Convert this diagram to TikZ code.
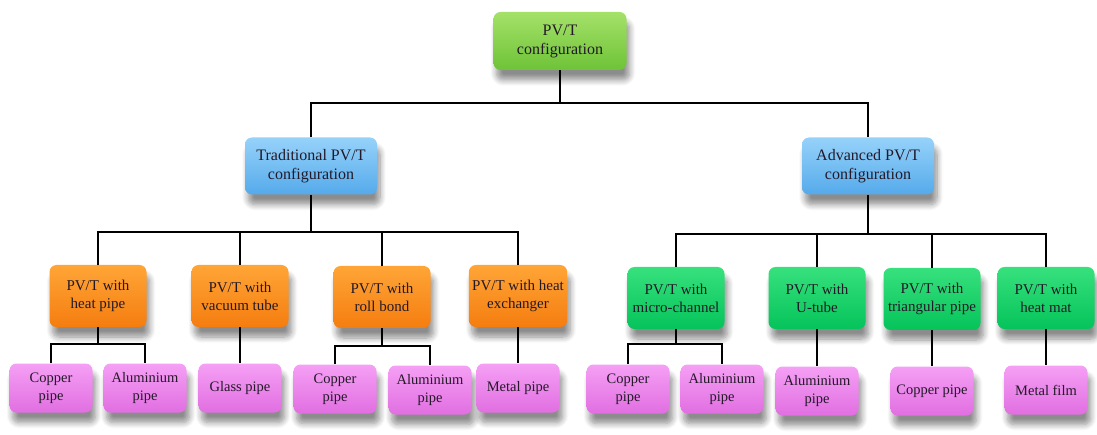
\documentclass[tikz,border=0pt]{standalone}
\usepackage{fontspec}
\setmainfont{Liberation Serif}
\usetikzlibrary{shadows.blur}
\definecolor{gtop}{RGB}{165,225,105}\definecolor{gbot}{RGB}{110,195,55}
\definecolor{btop}{RGB}{150,210,250}\definecolor{bbot}{RGB}{85,170,235}
\definecolor{otop}{RGB}{255,165,55}\definecolor{obot}{RGB}{245,125,15}
\definecolor{ntop}{RGB}{55,225,125}\definecolor{nbot}{RGB}{5,195,90}
\definecolor{ptop}{RGB}{245,160,245}\definecolor{pbot}{RGB}{225,110,225}
\definecolor{txt}{RGB}{35,25,40}
\tikzset{
  box/.style={rounded corners=7pt, align=center, text=txt, font=\fontsize{15}{18}\selectfont,
    blur shadow={shadow xshift=3pt, shadow yshift=-10pt, shadow blur steps=8, shadow blur radius=6pt, shadow opacity=45}},
  rootbox/.style={box, top color=gtop, bottom color=gbot, minimum width=133pt, minimum height=58pt, font=\fontsize{16}{19}\selectfont},
  midbox/.style={box, top color=btop, bottom color=bbot, minimum width=132pt, minimum height=57pt, font=\fontsize{16}{19}\selectfont},
  orbox/.style={box, top color=otop, bottom color=obot, minimum width=97pt, minimum height=62pt},
  grbox/.style={box, top color=ntop, bottom color=nbot, minimum width=97pt, minimum height=62pt},
  pkbox/.style={box, top color=ptop, bottom color=pbot, minimum width=83pt, minimum height=49pt, font=\fontsize{14.5}{18}\selectfont},
  link/.style={line width=1.8pt, black}
}
\begin{document}
\begin{tikzpicture}[x=1pt,y=-1pt]
\useasboundingbox (0,0) rectangle (1097,435);
% nodes
\node[rootbox] (top) at (560,41) {PV/T\\configuration};
\node[midbox] (trad) at (311,166) {Traditional PV/T\\configuration};
\node[midbox] (adv) at (868,166) {Advanced PV/T\\configuration};
\node[orbox] (hp) at (98,296) {PV/T with\\heat pipe};
\node[orbox] (vt) at (240,296) {PV/T with\\vacuum tube};
\node[orbox] (rb) at (382,297) {PV/T with\\roll bond};
\node[orbox] (ex) at (518,296) {PV/T with heat\\exchanger};
\node[grbox] (mc) at (676,298) {PV/T with\\micro-channel};
\node[grbox] (ut) at (817,298) {PV/T with\\U-tube};
\node[grbox] (tp) at (932,299) {PV/T with\\triangular pipe};
\node[grbox] (hm) at (1046,298) {PV/T with\\heat mat};
\node[pkbox] (cp1) at (51,388) {Copper\\pipe};
\node[pkbox] (al1) at (145,388) {Aluminium\\pipe};
\node[pkbox] (gp) at (240,388) {Glass pipe};
\node[pkbox] (cp2) at (335,389) {Copper\\pipe};
\node[pkbox] (al2) at (430,390) {Aluminium\\pipe};
\node[pkbox] (mp) at (518,388) {Metal pipe};
\node[pkbox] (cp3) at (628,389) {Copper\\pipe};
\node[pkbox] (al3) at (722,389) {Aluminium\\pipe};
\node[pkbox] (al4) at (817,391) {Aluminium\\pipe};
\node[pkbox] (cp4) at (932,391) {Copper pipe};
\node[pkbox] (mf) at (1046,390) {Metal film};
% bus coordinates
\coordinate (b1) at (560,103);
\coordinate (b2) at (311,232);
\coordinate (b3) at (868,234);
\coordinate (b4) at (98,344);
\coordinate (b5) at (382,346);
\coordinate (b6) at (676,344);
% connectors
\draw[link] (top.south) -- (b1);
\draw[link] (trad.north) |- (b1) -| (adv.north);
\draw[link] (trad.south) -- (b2);
\draw[link] (hp.north) |- (b2) -| (ex.north);
\draw[link] (vt.north) -- (vt.north |- b2);
\draw[link] (rb.north) -- (rb.north |- b2);
\draw[link] (adv.south) -- (b3);
\draw[link] (mc.north) |- (b3) -| (hm.north);
\draw[link] (ut.north) -- (ut.north |- b3);
\draw[link] (tp.north) -- (tp.north |- b3);
\draw[link] (hp.south) -- (b4);
\draw[link] (cp1.north) |- (b4) -| (al1.north);
\draw[link] (vt.south) -- (gp.north);
\draw[link] (rb.south) -- (b5);
\draw[link] (cp2.north) |- (b5) -| (al2.north);
\draw[link] (ex.south) -- (mp.north);
\draw[link] (mc.south) -- (b6);
\draw[link] (cp3.north) |- (b6) -| (al3.north);
\draw[link] (ut.south) -- (al4.north);
\draw[link] (tp.south) -- (cp4.north);
\draw[link] (hm.south) -- (mf.north);
\end{tikzpicture}
\end{document}
